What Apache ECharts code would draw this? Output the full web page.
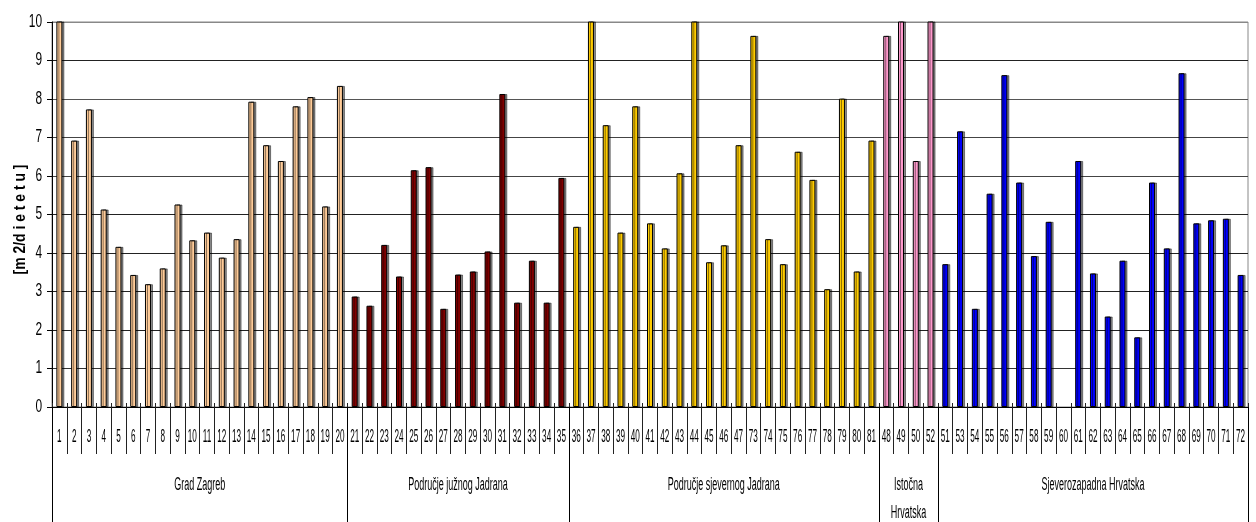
<!DOCTYPE html>
<html>
<head>
<meta charset="utf-8">
<script src="https://cdn.jsdelivr.net/npm/echarts@6/dist/echarts.min.js"></script>
<style>
  html, body { margin: 0; padding: 0; background: #fff; }
  #chart { width: 1256px; height: 522px; }
</style>
</head>
<body>
<div id="chart"></div>
<script>
// Playground area per child, by kindergarten, grouped by region
const groupNames = ['Grad Zagreb', 'Područje južnog Jadrana', 'Područje sjevernog Jadrana', 'Istočna\nHrvatska', 'Sjeverozapadna Hrvatska'];
const groupColors = ['#FFCC99', '#800000', '#FFCC00', '#FF99CC', '#0000FF'];
const yAxisTitle = '[m 2/d i e t e t u ]';

const zagrebLabels = ['1','2','3','4','5','6','7','8','9','10','11','12','13','14','15','16','17','18','19','20'];
const zagrebValues = [10.5, 6.92, 7.73, 5.13, 4.16, 3.43, 3.19, 3.60, 5.26, 4.33, 4.53, 3.88, 4.36, 7.93, 6.80, 6.39, 7.81, 8.05, 5.21, 8.34];

const juzniLabels = ['21','22','23','24','25','26','27','28','29','30','31','32','33','34','35'];
const juzniValues = [2.87, 2.63, 4.21, 3.39, 6.15, 6.23, 2.55, 3.44, 3.52, 4.04, 8.13, 2.71, 3.80, 2.71, 5.95];

const sjeverniLabels = ['36','37','38','39','40','41','42','43','44','45','46','47','73','74','75','76','77','78','79','80','81'];
const sjeverniValues = [4.68, 10.5, 7.32, 4.53, 7.81, 4.77, 4.12, 6.07, 10.5, 3.76, 4.20, 6.80, 9.64, 4.36, 3.71, 6.63, 5.90, 3.06, 8.01, 3.52, 6.92];

const istocnaLabels = ['48','49','50','52'];
const istocnaValues = [9.64, 10.5, 6.39, 10.5];

const sjeverozapadnaLabels = ['51','53','54','55','56','57','58','59','60','61','62','63','64','65','66','67','68','69','70','71','72'];
const sjeverozapadnaValues = [3.71, 7.16, 2.55, 5.54, 8.62, 5.83, 3.92, 4.81, null, 6.39, 3.47, 2.35, 3.80, 1.81, 5.83, 4.12, 8.67, 4.77, 4.85, 4.89, 3.43];

const yTicks = [0, 1, 2, 3, 4, 5, 6, 7, 8, 9, 10];

const groups = [
  [zagrebLabels, zagrebValues],
  [juzniLabels, juzniValues],
  [sjeverniLabels, sjeverniValues],
  [istocnaLabels, istocnaValues],
  [sjeverozapadnaLabels, sjeverozapadnaValues]
];

// flatten groups into one category axis, remembering group boundaries
const categories = [];
const barData = [];
const boundaries = [0];
const centers = [];
groups.forEach(function (g, gi) {
  const start = categories.length;
  g[0].forEach(function (lab, i) {
    categories.push(lab);
    const v = g[1][i];
    barData.push(v == null ? null : { value: v, itemStyle: { color: groupColors[gi] } });
  });
  boundaries.push(categories.length);
  centers.push((start + categories.length) / 2);
});
const total = categories.length;

const FONT = "'Liberation Sans', Arial, sans-serif";

const chart = echarts.init(document.getElementById('chart'), null, { renderer: 'canvas' });

chart.setOption({
  animation: false,
  backgroundColor: '#fff',
  grid: {
    left: 52, right: 8, top: 22, bottom: 115,
    show: true, borderColor: '#888', borderWidth: 1, backgroundColor: 'transparent'
  },
  xAxis: [
    {
      type: 'category',
      data: categories,
      position: 'bottom',
      boundaryGap: true,
      axisLine: { show: true, lineStyle: { color: '#000', width: 1 } },
      axisTick: { show: true, interval: 0, length: 47, lineStyle: { color: '#222', width: 1 } },
      axisLabel: { show: false },
      splitLine: { show: false }
    },
    {
      type: 'category',
      data: categories,
      position: 'bottom',
      boundaryGap: true,
      axisLine: { show: false },
      axisTick: { show: true, inside: true, interval: 0, length: 4, lineStyle: { color: '#222', width: 1 } },
      axisLabel: { show: false },
      splitLine: { show: false }
    },
    {
      type: 'value',
      min: 0, max: total,
      position: 'bottom',
      axisLine: { show: false },
      splitLine: { show: false },
      axisTick: { show: true, customValues: boundaries, length: 115, lineStyle: { color: '#000', width: 1 } },
      axisLabel: { show: false }
    }
  ],
  yAxis: {
    type: 'value',
    min: yTicks[0],
    max: yTicks[yTicks.length - 1],
    interval: 1,
    axisLine: { show: true, lineStyle: { color: '#000', width: 1 } },
    axisTick: { show: true, length: 5, lineStyle: { color: '#000' } },
    axisLabel: { show: false },
    splitLine: {
      show: true,
      lineStyle: {
        color: ['#000', '#333', '#222', '#222', '#222', '#222', '#444', '#444', '#555', '#222', '#888'],
        width: 1
      }
    }
  },
  series: [
    {
      type: 'bar',
      xAxisIndex: 0,
      data: barData,
      barWidth: 6,
      clip: true,
      itemStyle: {
        borderColor: '#000',
        borderWidth: 1,
        shadowColor: 'rgba(0,0,0,0.45)',
        shadowOffsetX: 2,
        shadowOffsetY: 0,
        shadowBlur: 0
      }
    }
  ]
});

// Axis texts use a horizontally condensed face, so they are laid out as
// graphic text placed through the axes' own pixel conversion.
function textEl(text, x, y, opts) {
  return {
    type: 'text',
    x: x, y: y,
    scaleX: opts.scaleX,
    rotation: opts.rotation || 0,
    silent: true,
    style: {
      text: text,
      font: (opts.weight || 'normal') + ' ' + opts.size + 'px ' + FONT,
      fill: '#000',
      align: opts.align || 'center',
      verticalAlign: 'middle',
      lineHeight: opts.lineHeight
    }
  };
}

const elements = [];
const y0 = chart.convertToPixel({ yAxisIndex: 0 }, 0);
const xLeft = chart.convertToPixel({ xAxisIndex: 2 }, 0);

// category numbers
categories.forEach(function (lab, i) {
  const x = chart.convertToPixel({ xAxisIndex: 0 }, i);
  elements.push(textEl(lab, x, y0 + 30, { size: 19, scaleX: 0.43 }));
});

// region names
centers.forEach(function (c, i) {
  const x = chart.convertToPixel({ xAxisIndex: 2 }, c);
  elements.push({
    type: 'text', x: x, y: y0 + 64, scaleX: 0.5, silent: true,
    style: {
      text: groupNames[i],
      font: 'normal 18px ' + FONT,
      fill: '#000',
      align: 'center',
      verticalAlign: 'top',
      lineHeight: 28
    }
  });
});

// value axis ticks
yTicks.forEach(function (v) {
  const y = chart.convertToPixel({ yAxisIndex: 0 }, v);
  elements.push(textEl(String(v), xLeft - 10, y, { size: 17.5, scaleX: 0.68, align: 'right' }));
});

// value axis title
const yMid = (chart.convertToPixel({ yAxisIndex: 0 }, yTicks[0]) + chart.convertToPixel({ yAxisIndex: 0 }, yTicks[yTicks.length - 1])) / 2;
elements.push(textEl(yAxisTitle, xLeft - 32, yMid + 5, { size: 17, scaleX: 0.82, weight: 'bold', rotation: Math.PI / 2 }));

chart.setOption({ graphic: { elements: elements } });
</script>
</body>
</html>
